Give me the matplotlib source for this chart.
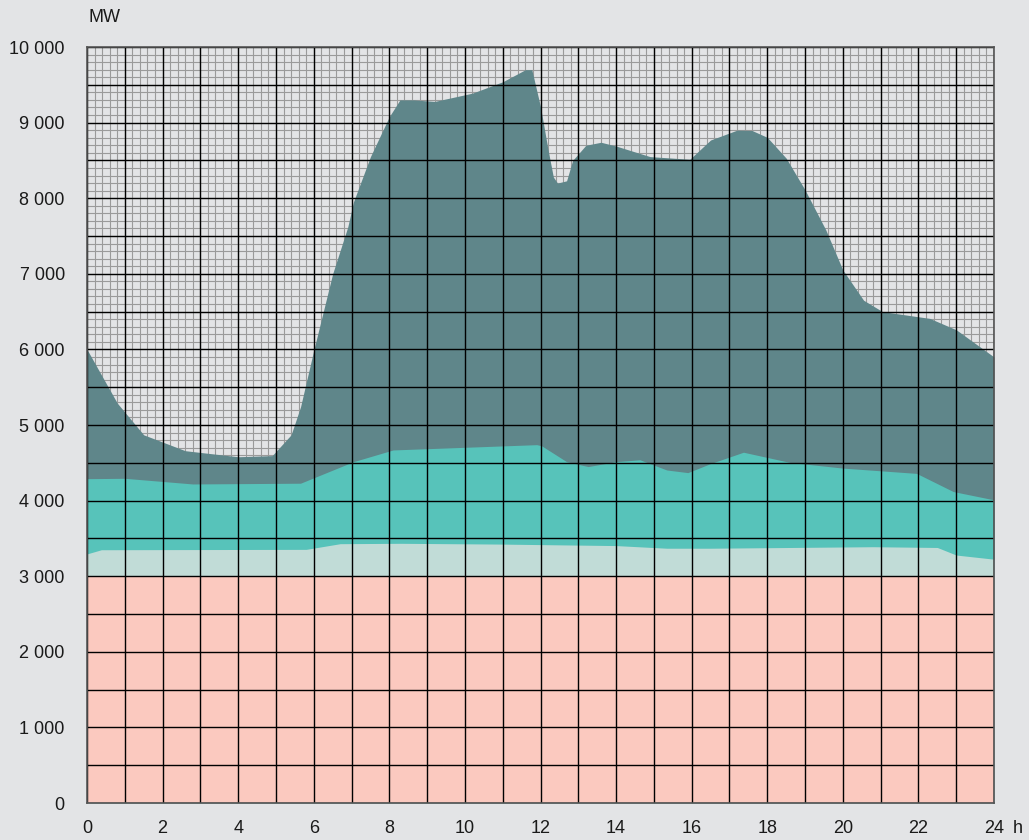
import numpy as np
import matplotlib
matplotlib.use("Agg")
import matplotlib.pyplot as plt
import matplotlib.transforms as mtransforms
from matplotlib.ticker import MultipleLocator, FuncFormatter

# Daily load profile (MW), stacked boundaries measured from zero
load_h = [0, 0.8, 1.5, 2.6, 4.0, 4.9, 5.4, 5.65, 6.0, 6.5, 6.9, 7.05, 7.5, 8.0,
          8.28, 8.65, 9.2, 10.2, 11.0, 11.6, 11.77, 12.0, 12.2, 12.34, 12.45,
          12.69, 12.85, 13.2, 13.6, 14.0, 14.9, 15.95, 16.5, 17.2, 17.6, 18.0,
          18.5, 19.0, 19.55, 20.0, 20.55, 21.05, 22.3, 23.0, 24.0]
load_mw = [6000, 5290, 4870, 4660, 4580, 4595, 4870, 5240, 5990, 7000, 7620,
           7950, 8550, 9080, 9300, 9300, 9280, 9390, 9540, 9700, 9700, 9210,
           8640, 8280, 8200, 8230, 8500, 8700, 8740, 8690, 8550, 8515, 8770,
           8900, 8895, 8805, 8530, 8110, 7580, 7050, 6650, 6500, 6410, 6260, 5900]

teal_h = [0, 1.0, 2.8, 5.65, 7.05, 8.1, 11.9, 12.03, 12.69, 13.26, 14.0, 14.63,
          15.34, 15.9, 16.5, 17.37, 18.6, 20.0, 21.95, 22.92, 24.0]
teal_mw = [4290, 4295, 4220, 4230, 4515, 4670, 4740, 4725, 4515, 4450, 4515,
           4540, 4405, 4370, 4490, 4640, 4505, 4430, 4360, 4120, 4010]

mint_h = [0, 0.38, 5.8, 6.7, 8.3, 10.9, 14.0, 15.34, 16.5, 20.8, 22.5, 23.0, 24.0]
mint_mw = [3295, 3350, 3355, 3430, 3435, 3425, 3405, 3370, 3370, 3390, 3380,
           3280, 3225]

base_h = [0, 24]
base_mw = [3000, 3000]

x_labels = ["0", "2", "4", "6", "8", "10", "12", "14", "16", "18", "20", "22", "24"]
y_labels = ["0", "1 000", "2 000", "3 000", "4 000", "5 000", "6 000",
            "7 000", "8 000", "9 000", "10 000"]

BG = "#e3e4e6"
layers = [
    (load_h, load_mw, "#5f868a"),
    (teal_h, teal_mw, "#57c3ba"),
    (mint_h, mint_mw, "#c1dcd7"),
    (base_h, base_mw, "#fbc9bf"),
]

plt.rcParams["font.family"] = ["Liberation Sans", "DejaVu Sans"]

fig = plt.figure(figsize=(10.29, 8.40), dpi=100, facecolor=BG)
ax = fig.add_axes([87 / 1029, 37 / 840, (994 - 87) / 1029, (803 - 47) / 840])
ax.set_facecolor(BG)
ax.set_xlim(0, 24)
ax.set_ylim(0, 10000)

# fine millimetre-paper grid underneath the areas
for xv in np.arange(0, 24.001, 0.2):
    ax.axvline(xv, color="#9a9a9a", lw=0.8, zorder=0.5)
for yv in np.arange(0, 10000.1, 100):
    ax.axhline(yv, color="#9a9a9a", lw=0.8, zorder=0.5)

for i, (h, mw, col) in enumerate(layers):
    ax.fill_between(h, 0, mw, color=col, lw=0, zorder=1 + 0.1 * i)

# coarse grid on top of the areas
ax.xaxis.set_major_locator(MultipleLocator(1))
ax.yaxis.set_major_locator(MultipleLocator(500))
ax.set_axisbelow(False)
ax.grid(True, which="major", color="#000000", lw=1.0)


def xfmt(v, pos):
    if abs(v - round(v)) < 1e-6 and int(round(v)) % 2 == 0:
        return x_labels[int(round(v)) // 2]
    return ""


def yfmt(v, pos):
    if abs(v % 1000) < 1e-6:
        return y_labels[int(round(v)) // 1000]
    return ""


ax.xaxis.set_major_formatter(FuncFormatter(xfmt))
ax.yaxis.set_major_formatter(FuncFormatter(yfmt))
ax.tick_params(axis="both", length=0, labelsize=13, colors="#1a1a1a")
ax.tick_params(axis="x", pad=12)
ax.tick_params(axis="y", pad=16)

# lift the "0" label on the value axis slightly off the baseline
fig.canvas.draw()
zero_lbl = ax.yaxis.get_major_ticks()[0].label1
zero_lbl.set_transform(zero_lbl.get_transform() +
                       mtransforms.ScaledTranslation(0, 4 / 72, fig.dpi_scale_trans))

for s in ax.spines.values():
    s.set_color("#555555")
    s.set_linewidth(1.2)
    s.set_zorder(3)

ax.annotate("h", xy=(24, 0), xycoords="data", xytext=(13.5, -12),
            textcoords="offset points", ha="left", va="top",
            fontsize=13, color="#1a1a1a")
fig.text(88 / 1029, 1 - 18 / 840, "MW", ha="left", va="center",
         fontsize=13, color="#1a1a1a")

fig.savefig("out.png", dpi=100, facecolor=BG)
